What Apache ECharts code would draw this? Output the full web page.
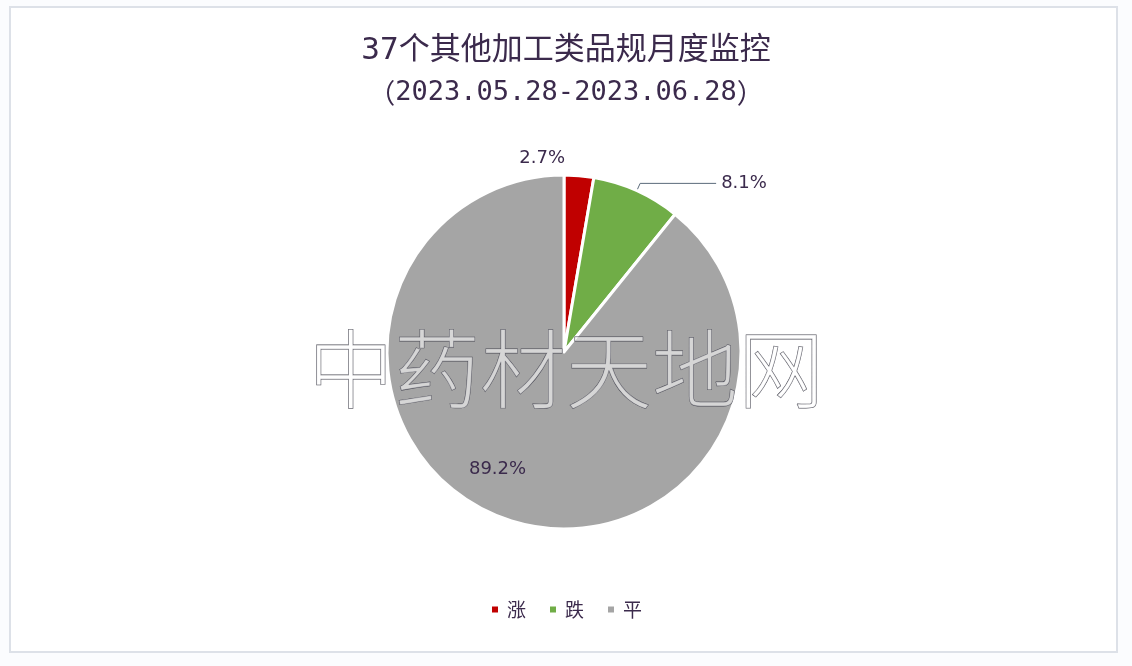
<!DOCTYPE html>
<html><head><meta charset="utf-8">
<script src="https://cdn.jsdelivr.net/npm/echarts@6/dist/echarts.min.js"></script>
<style>html,body{margin:0;padding:0;background:#fbfcfe;}#c{width:1132px;height:666px;}</style>
</head><body><div id="c"></div>
<script>
const titleLines = ['37个其他加工类品规月度监控', '2023.05.28-2023.06.28'];
const categories = ['涨', '跌', '平'];
const values = [2.7, 8.1, 89.2];
const colors = ['#c00000', '#70ad47', '#a5a5a5'];
const watermark = '中药材天地网';

const chart = echarts.init(document.getElementById('c'), null, {renderer: 'canvas'});
const textColor = '#3b2a4c';
const mono = '"DejaVu Sans Mono", "Noto Sans CJK SC"';
chart.setOption({
  backgroundColor: '#fbfcfe',
  graphic: [
    {type: 'rect', z: -10, shape: {x: 10, y: 7, width: 1107, height: 645},
     style: {fill: '#ffffff', stroke: '#dde1e8', lineWidth: 2}},
    {type: 'text', z: 100, left: 'center', top: 326, silent: true,
     style: {text: watermark, fill: 'rgba(255,255,255,0.55)', stroke: '#4a4a55', lineWidth: 0.8,
       font: '300 86px "Noto Sans CJK SC"', x: 6}}
  ],
  title: {
    text: '{a|' + titleLines[0] + '}\n{p|（}{b|' + titleLines[1] + '}{p|）}', left: 'center', top: 25,
    textStyle: {
      fontWeight: 'normal',
      rich: {
        a: {fontSize: 31, fontWeight: 'normal', color: textColor, lineHeight: 42, fontFamily: mono},
        b: {fontSize: 27, fontWeight: 'normal', color: textColor, lineHeight: 42, fontFamily: mono},
        p: {fontSize: 27, fontWeight: 'normal', color: textColor, lineHeight: 42, fontFamily: '"Noto Sans CJK SC"'}
      }
    }
  },
  legend: {
    bottom: 42, left: 'center', icon: 'rect', itemWidth: 8, itemHeight: 8, itemGap: 22,
    textStyle: {fontSize: 19, color: textColor, fontFamily: '"Noto Sans CJK SC"', padding: [0, 0, 0, 3]},
    data: categories
  },
  series: [{
    type: 'pie', center: [564, 352], radius: [0, 177], startAngle: 90, clockwise: true,
    animation: false,
    itemStyle: {borderColor: '#ffffff', borderWidth: 3},
    label: {formatter: p => p.value.toFixed(1) + '%', fontSize: 18, color: textColor,
      fontFamily: '"DejaVu Sans"'},
    labelLine: {lineStyle: {color: '#5a6a7a', width: 1}},
    data: categories.map((c, i) => {
      const d = {name: c, value: values[i], itemStyle: {color: colors[i]}};
      if (i === 0) { d.label = {position: 'outside'}; d.labelLine = {show: false}; }
      if (i === 1) { d.label = {position: 'outside'}; d.labelLine = {show: true, length: 8, length2: 76}; }
      if (i === 2) { d.label = {position: 'inside'}; }
      return d;
    }),
    labelLayout: function (p) {
      if (p.dataIndex === 0) return {dx: -96, dy: -2};
      if (p.dataIndex === 2) return {dx: -36, dy: 31};
      return {};
    }
  }]
});
</script></body></html>
